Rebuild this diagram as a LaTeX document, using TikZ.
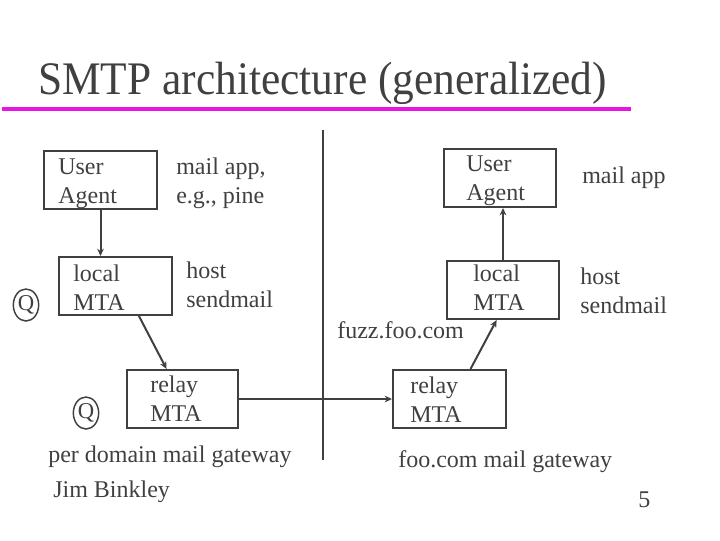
\documentclass[tikz,border=0pt]{standalone}
\usepackage{fontspec}
\setmainfont{Liberation Serif}
\usetikzlibrary{arrows.meta,positioning,calc,shapes.geometric}
\definecolor{inkcolor}{RGB}{64,64,64}
\definecolor{rulecolor}{RGB}{230,22,226}
\tikzset{
  mtabox/.style={draw=inkcolor, line width=1.5pt, inner sep=0pt},
  boxtxt/.style={text=inkcolor, anchor=base west, align=left, inner sep=0pt,
    font=\fontsize{18}{21.75}\selectfont},
  sidetxt/.style={boxtxt},
  qmark/.style={draw=inkcolor, line width=1.1pt, ellipse, inner sep=0pt,
    minimum width=19pt, minimum height=24pt, text=inkcolor,
    font=\fontsize{17}{17}\selectfont},
  arr/.style={-{Stealth[length=5.5pt,width=5pt]}, line width=1.5pt, draw=inkcolor},
  divln/.style={line width=1.5pt, draw=inkcolor},
}
\begin{document}
\begin{tikzpicture}[x=0.75pt, y=-0.75pt]
    \useasboundingbox (0,0) rectangle (720,540);
    % title
    \node[anchor=base west, inner sep=0pt, text=inkcolor, xscale=0.93, transform shape,
      font=\fontsize{35}{35}\selectfont] (title) at (38,94) {SMTP architecture (generalized)};
    \coordinate (ulA) at (2,109);
    \coordinate (ulB) at (631,109);
    \draw[rulecolor, line width=3.4pt] (ulA) -- (ulB);
    % divider
    \coordinate (divtop) at (323,130);
    \coordinate (divbot) at (323,460);
    \draw[divln] (divtop) -- (divbot);
    % sender side (lines of text are placed by their last baseline)
    \node[mtabox, minimum width=84.75pt, minimum height=43.5pt] (ua1) at (100.5,179.5) {};
    \node[boxtxt] (ua1t) at (58,203) {User\\Agent};
    \node[sidetxt] (app1) at (176,203) {mail app,\\e.g., pine};
    \node[mtabox, minimum width=84.75pt, minimum height=43.5pt] (lmta1) at (115.5,286) {};
    \node[boxtxt] (lmta1t) at (73,310) {local\\MTA};
    \node[sidetxt] (host1) at (186,307) {host\\sendmail};
    \node[qmark] (q1) at (26,305) {Q};
    \draw[arr] (ua1.south) -- (ua1.south |- lmta1.north);
    % sender gateway
    \node[mtabox, minimum width=83.25pt, minimum height=43.5pt] (relay1) at (182.5,399) {};
    \node[boxtxt] (relay1t) at (150,421) {relay\\MTA};
    \node[qmark] (q2) at (86,413) {Q};
    \node[sidetxt] (gw1) at (48,462) {per domain mail gateway};
    \node[sidetxt] (who) at (53,497) {Jim Binkley};
    \draw[arr] (lmta1.-52) -- (relay1.118);
    % receiver side
    \node[mtabox, minimum width=84pt, minimum height=43.5pt] (ua2) at (500,178) {};
    \node[boxtxt] (ua2t) at (466,200) {User\\Agent};
    \node[sidetxt] (app2) at (582,183) {mail app};
    \node[mtabox, minimum width=84pt, minimum height=43.5pt] (lmta2) at (503,290) {};
    \node[boxtxt] (lmta2t) at (473,310) {local\\MTA};
    \node[sidetxt] (host2) at (580,313) {host\\sendmail};
    \node[sidetxt] (fuzz) at (337,338) {fuzz.foo.com};
    \draw[arr] (lmta2.north) -- (lmta2.north |- ua2.south);
    % receiver gateway
    \node[mtabox, minimum width=84.75pt, minimum height=43.5pt] (relay2) at (449.5,399) {};
    \node[boxtxt] (relay2t) at (410,422) {relay\\MTA};
    \node[sidetxt] (gw2) at (398,467) {foo.com mail gateway};
    \draw[arr] (relay1.east) -- (relay2.west);
    \draw[arr] (relay2.55) -- (lmta2.-102);
    % page number
    \node[sidetxt] (pnum) at (638,507) {5};
\end{tikzpicture}
\end{document}
